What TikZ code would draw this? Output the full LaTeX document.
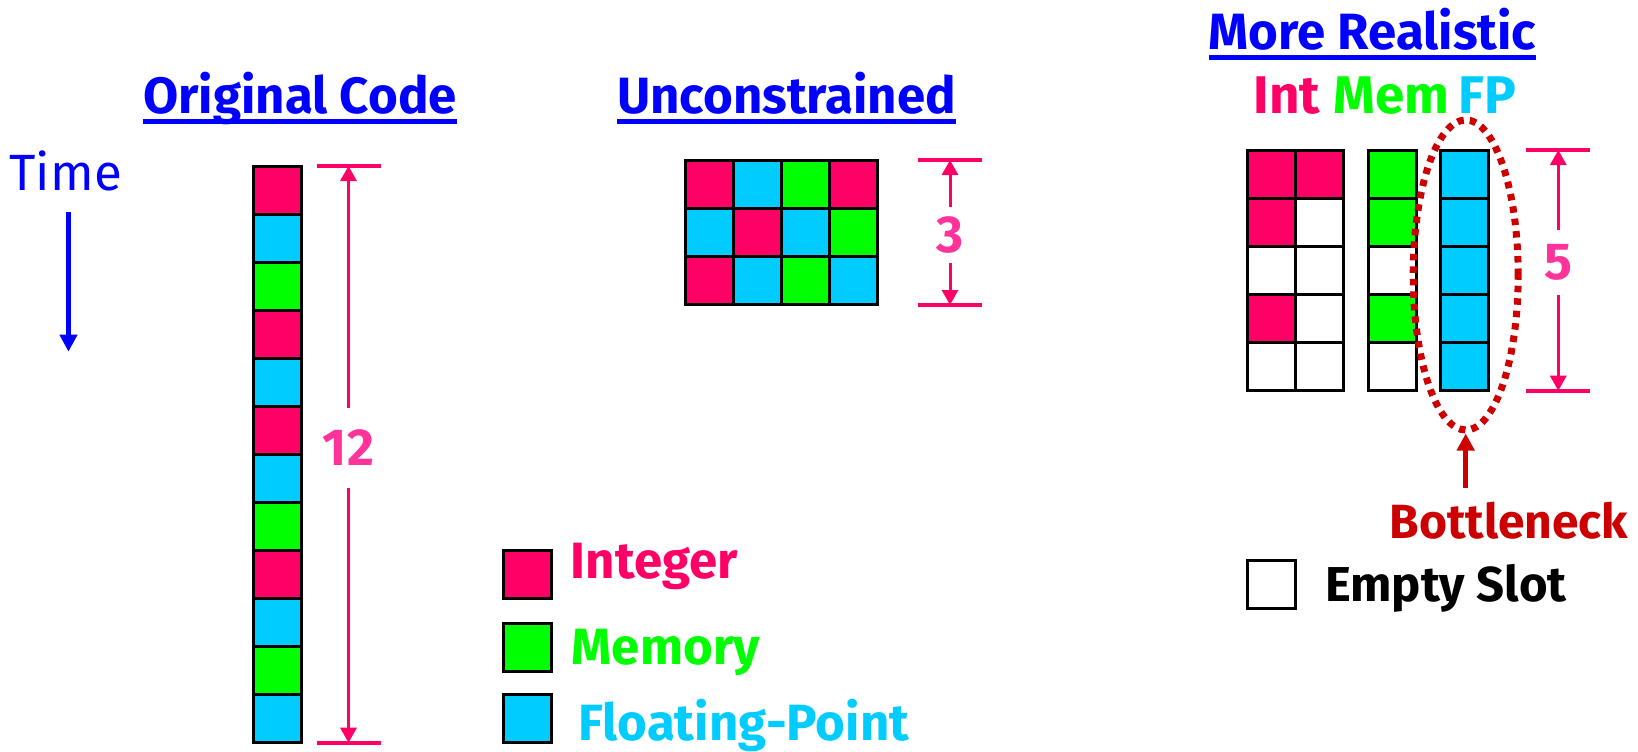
\documentclass[tikz,border=0pt]{standalone}
\usepackage{fontspec}
\setmainfont{Fira Sans}
\usetikzlibrary{arrows.meta,shapes.geometric}
\definecolor{ipink}{HTML}{FF0066}
\definecolor{npink}{HTML}{FF3399}
\definecolor{mgreen}{HTML}{00FF00}
\definecolor{fcyan}{HTML}{00CCFF}
\definecolor{tblue}{HTML}{0000FF}
\definecolor{bred}{HTML}{CC0000}
\begin{document}
\begin{tikzpicture}[x=1pt,y=-1pt,
  cell/.style={draw=black, line width=3pt, minimum size=48pt, inner sep=0pt, fill=white},
  cellI/.style={cell, fill=ipink},
  cellM/.style={cell, fill=mgreen},
  cellF/.style={cell, fill=fcyan},
  cellE/.style={cell, fill=white},
  title/.style={font=\bfseries\fontsize{51}{55}\selectfont, text=tblue, inner sep=0pt, anchor=base},
  uline/.style={draw=tblue, line width=4.5pt},
  hdr/.style={font=\bfseries\fontsize{53}{55}\selectfont, inner sep=0pt, anchor=base},
  lbl/.style={font=\bfseries\fontsize{51}{55}\selectfont, inner sep=0pt, anchor=base west},
  num/.style={font=\bfseries\fontsize{52}{55}\selectfont, text=npink, inner sep=0pt},
  tick/.style={draw=ipink, line width=3.7pt},
  dim/.style={draw=ipink, line width=3pt, -{Triangle[width=16pt,length=15pt]}},
]
\useasboundingbox (0,0) rectangle (1638,752);

% titles
\node[title] (tOrig) at (300,113) {Original Code};
\node[title] (tUnc) at (786.5,113) {Unconstrained};
\node[title] (tReal) at (1372.5,50) {More Realistic};
\draw[uline] ([yshift=-8.7pt]tOrig.base west) -- ([yshift=-8.7pt]tOrig.base east);
\draw[uline] ([yshift=-8.7pt]tUnc.base west) -- ([yshift=-8.7pt]tUnc.base east);
\draw[uline] ([yshift=-7.3pt]tReal.base west) -- ([yshift=-7.3pt]tReal.base east);

% time
\node[font=\fontsize{51}{55}\selectfont, text=tblue, inner sep=0pt, anchor=base] (time) at (65.7,190) {Time};
\coordinate (ta) at (68.5,211.7);
\coordinate (tb) at (68.5,351.7);
\draw[tblue, line width=5pt, -{Triangle[width=17pt,length=17pt]}] (ta) -- (tb);

% original code column
\foreach \s [count=\k from 0] in {cellI,cellF,cellM,cellI,cellF,cellI,cellF,cellM,cellI,cellF,cellM,cellF}
  \node[\s] (o\k) at (277,{190+48*\k}) {};

% dimension 12
\coordinate (d12a) at (348.5,166);
\coordinate (d12b) at (348.5,742.7);
\node[num, minimum height=80pt] (n12) at (348.5,448) {12};
\draw[tick] ([xshift=-32pt]d12a) -- ([xshift=32pt]d12a);
\draw[tick] ([xshift=-32pt]d12b) -- ([xshift=32pt]d12b);
\draw[dim] (n12.north) -- (d12a);
\draw[dim] (n12.south) -- (d12b);

% unconstrained grid
\foreach \r/\c/\s in {0/0/cellI,0/1/cellF,0/2/cellM,0/3/cellI,
                      1/0/cellF,1/1/cellI,1/2/cellF,1/3/cellM,
                      2/0/cellI,2/1/cellF,2/2/cellM,2/3/cellF}
  \node[\s] (u\r\c) at ({709+48.2*\c},{184+48.2*\r}) {};

% dimension 3
\coordinate (d3a) at (950,160);
\coordinate (d3b) at (950,305);
\node[num, minimum height=56pt] (n3) at (950,235) {3};
\draw[tick] ([xshift=-32pt]d3a) -- ([xshift=32pt]d3a);
\draw[tick] ([xshift=-32pt]d3b) -- ([xshift=32pt]d3b);
\draw[dim] (n3.north) -- (d3a);
\draw[dim] (n3.south) -- (d3b);

% headers
\node[hdr, text=ipink] (hI) at (1287,113.3) {Int};
\node[hdr, text=mgreen] (hM) at (1391.5,113.3) {Mem};
\node[hdr, text=fcyan] (hF) at (1487.5,113.3) {FP};

% realistic grid
\foreach \r/\c/\s in {0/0/cellI,0/1/cellI,
                      1/0/cellI,1/1/cellE,
                      2/0/cellE,2/1/cellE,
                      3/0/cellI,3/1/cellE,
                      4/0/cellE,4/1/cellE}
  \node[\s] (i\r\c) at ({1271.5+48*\c},{174+48.1*\r}) {};
\foreach \s [count=\k from 0] in {cellM,cellM,cellE,cellM,cellE}
  \node[\s] (m\k) at (1392.5,{174+48.1*\k}) {};
\foreach \k in {0,...,4}
  \node[cellF] (f\k) at (1464.2,{174+48.1*\k}) {};

% dimension 5
\coordinate (d5a) at (1558.3,150);
\coordinate (d5b) at (1558.3,390.7);
\node[num, minimum height=65pt] (n5) at (1558.3,262.5) {5};
\draw[tick] ([xshift=-32pt]d5a) -- ([xshift=32pt]d5a);
\draw[tick] ([xshift=-32pt]d5b) -- ([xshift=32pt]d5b);
\draw[dim] (n5.north) -- (d5a);
\draw[dim] (n5.south) -- (d5b);

% bottleneck ellipse
\node[ellipse, draw=bred, line width=7pt, dash pattern=on 6.5pt off 6pt,
      minimum width=105pt, minimum height=310pt, inner sep=0pt] (bneck) at (1465.7,275) {};
\coordinate (bstart) at (1465.7,488);
\draw[bred, line width=5pt, -{Triangle[width=17pt,length=17pt]}] (bstart) -- (bneck.south);
\node[font=\bfseries\fontsize{48}{52}\selectfont, text=bred, inner sep=0pt, anchor=base] (btext) at (1509,538.3) {Bottleneck};

% empty slot legend
\node[cellE] (eBox) at (1271,584.5) {};
\node[lbl, text=black, font=\bfseries\fontsize{49}{52}\selectfont] (eText) at (1325,601.7) {Empty Slot};

% type legend
\node[cellI] (lgI) at (527,574.7) {};
\node[cellM] (lgM) at (527,647) {};
\node[cellF] (lgF) at (527,718.7) {};
\node[lbl, text=ipink] (ltI) at (570.7,578.3) {Integer};
\node[lbl, text=mgreen] (ltM) at (571.7,664) {Memory};
\node[lbl, text=fcyan] (ltF) at (578.3,740) {Floating-Point};
\end{tikzpicture}
\end{document}
